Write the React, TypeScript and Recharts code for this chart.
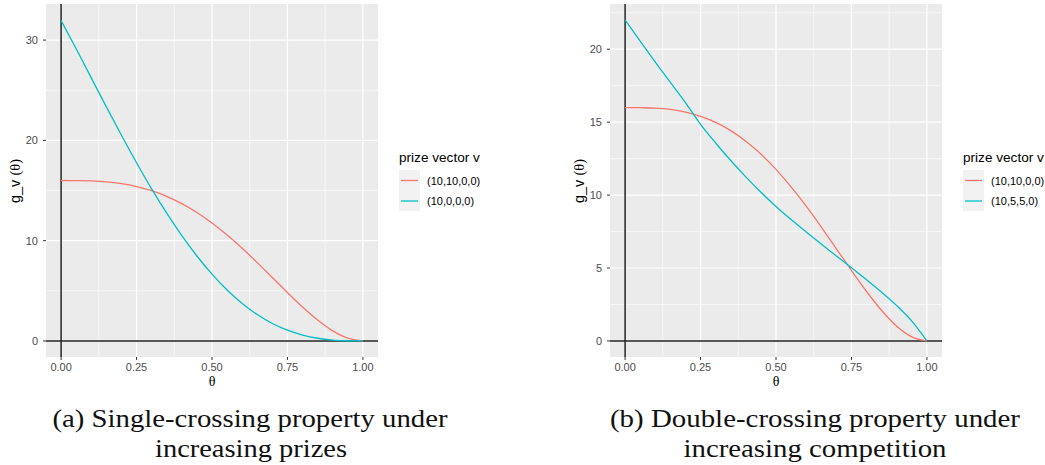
import React from 'react';
import { LineChart, Line, XAxis, YAxis, CartesianGrid, ReferenceLine } from 'recharts';

// theta grid
const thetas = [0, 0.05, 0.1, 0.15, 0.2, 0.25, 0.3, 0.35, 0.4, 0.45, 0.5, 0.55, 0.6, 0.65, 0.7, 0.75, 0.8, 0.85, 0.9, 0.95, 1];

// g_v(theta) for prize vector (10,10,0,0) (same in both panels)
const g_10_10_0_0 = [16.0, 15.99, 15.96, 15.87, 15.69, 15.4, 14.98, 14.42, 13.69, 12.81, 11.76, 10.56, 9.24, 7.81, 6.32, 4.83, 3.39, 2.09, 1.01, 0.28, 0];
// panel (a): prize vector (10,0,0,0)
const g_10_0_0_0 = [31.95, 29.14, 26.23, 23.34, 20.51, 17.77, 15.17, 12.74, 10.5, 8.47, 6.66, 5.08, 3.74, 2.63, 1.74, 1.07, 0.59, 0.27, 0.09, 0.02, 0];
// panel (b): prize vector (10,5,5,0)
const g_10_5_5_0 = [22.0, 20.55, 19.12, 17.72, 16.34, 14.85, 13.57, 12.37, 11.25, 10.2, 9.22, 8.32, 7.47, 6.64, 5.83, 5.02, 4.19, 3.34, 2.42, 1.36, 0];

const xTicks = [0, 0.25, 0.5, 0.75, 1];
const xMinor = [0.125, 0.375, 0.625, 0.875];
const yTicksA = [0, 10, 20, 30];
const yMinorA = [5, 15, 25];
const yTicksB = [0, 5, 10, 15, 20];
const yMinorB = [2.5, 7.5, 12.5, 17.5, 22.5];

const legendTitle = 'prize vector v';
const labelsA = ['(10,10,0,0)', '(10,0,0,0)'];
const labelsB = ['(10,10,0,0)', '(10,5,5,0)'];
const captionA = ['(a) Single-crossing property under', 'increasing prizes'];
const captionB = ['(b) Double-crossing property under', 'increasing competition'];

const RED = '#F8766D';
const TEAL = '#00BFC4';
const SANS = "'Liberation Sans', Arial, Helvetica, sans-serif";
const SERIF = "'Liberation Serif', 'Times New Roman', serif";

type PanelProps = {
  left: number;
  yDomain: [number, number];
  yTicks: number[];
  yMinor: number[];
  seriesB: number[];
};

function Panel({ left, yDomain, yTicks, yMinor, seriesB }: PanelProps) {
  const data = thetas.map((t, i) => ({ theta: t, a: g_10_10_0_0[i], b: seriesB[i] }));
  const tickStyle = { fill: '#4D4D4D', fontSize: 11, fontFamily: SANS };
  return (
    <div style={{ position: 'absolute', left, top: 0 }}>
      <LineChart width={378} height={395} data={data} margin={{ top: 4, right: 0, bottom: 0, left: 0 }}>
        <CartesianGrid
          fill="#EBEBEB"
          stroke="#FFFFFF"
          strokeWidth={1.2}
          horizontalValues={yTicks}
          verticalValues={xTicks}
        />
        {xMinor.map((v) => (
          <ReferenceLine key={'xm' + v} x={v} stroke="#FFFFFF" strokeWidth={0.6} />
        ))}
        {yMinor.map((v) => (
          <ReferenceLine key={'ym' + v} y={v} stroke="#FFFFFF" strokeWidth={0.6} />
        ))}
        <ReferenceLine x={0} stroke="#222222" strokeWidth={1.5} />
        <ReferenceLine y={0} stroke="#222222" strokeWidth={1.5} />
        <XAxis
          dataKey="theta"
          type="number"
          domain={[-0.05, 1.05]}
          ticks={xTicks}
          interval={0}
          allowDataOverflow
          tickFormatter={(v: number) => v.toFixed(2)}
          axisLine={false}
          tickLine={{ stroke: '#333333' }}
          tickSize={3}
          tickMargin={3}
          height={38}
          tick={tickStyle}
        />
        <YAxis
          type="number"
          domain={yDomain}
          ticks={yTicks}
          interval={0}
          allowDataOverflow
          axisLine={false}
          tickLine={{ stroke: '#333333' }}
          tickSize={3}
          tickMargin={5}
          width={46}
          tick={tickStyle}
        />
        <Line type="monotone" dataKey="a" stroke={RED} strokeWidth={1.3} dot={false} activeDot={false} isAnimationActive={false} />
        <Line type="monotone" dataKey="b" stroke={TEAL} strokeWidth={1.3} dot={false} activeDot={false} isAnimationActive={false} />
      </LineChart>
    </div>
  );
}

function Legend({ x, labels }: { x: number; labels: string[] }) {
  return (
    <g>
      <text x={x} y={162} fontSize={13.6} fontFamily={SANS} fill="#000">{legendTitle}</text>
      <rect x={x} y={170} width={21} height={41} fill="#F2F2F2" />
      {labels.map((l, i) => (
        <g key={l}>
          <line x1={x + 2} x2={x + 19} y1={180.5 + i * 20.5} y2={180.5 + i * 20.5} stroke={i === 0 ? RED : TEAL} strokeWidth={1.3} />
          <text x={x + 28} y={184.5 + i * 20.5} fontSize={11} fontFamily={SANS} fill="#000">{l}</text>
        </g>
      ))}
    </g>
  );
}

function AxisTitles({ plotLeft, plotRight }: { plotLeft: number; plotRight: number }) {
  const cx = (plotLeft + plotRight) / 2;
  const yx = plotLeft - 31;
  return (
    <g>
      <text x={cx} y={386} fontSize={14} fontFamily={SERIF} textAnchor="middle" fill="#000">θ</text>
      <text transform={`translate(${yx + 5}, 181) rotate(-90)`} textAnchor="middle" fontSize={14.5} fill="#000">
        <tspan fontFamily={SANS}>g_v </tspan>
        <tspan fontFamily={SERIF}>(θ)</tspan>
      </text>
    </g>
  );
}

export default function App() {
  return (
    <div style={{ position: 'relative', width: 1045, height: 465, background: '#fff', overflow: 'hidden' }}>
      <style>{`body{margin:0;}`}</style>
      <Panel left={0} yDomain={[-1.6, 33.6]} yTicks={yTicksA} yMinor={yMinorA} seriesB={g_10_0_0_0} />
      <Panel left={564} yDomain={[-1.1, 23.1]} yTicks={yTicksB} yMinor={yMinorB} seriesB={g_10_5_5_0} />
      <svg width={1045} height={465} style={{ position: 'absolute', left: 0, top: 0, pointerEvents: 'none' }}>
        <AxisTitles plotLeft={46} plotRight={378} />
        <AxisTitles plotLeft={610} plotRight={942} />
        <Legend x={399} labels={labelsA} />
        <Legend x={963} labels={labelsB} />
        <text x={250} y={427} textAnchor="middle" fontSize={25} fontFamily={SERIF} fill="#111" textLength={395} lengthAdjust="spacingAndGlyphs">{captionA[0]}</text>
        <text x={251} y={457} textAnchor="middle" fontSize={25} fontFamily={SERIF} fill="#111" textLength={192} lengthAdjust="spacingAndGlyphs">{captionA[1]}</text>
        <text x={815} y={427} textAnchor="middle" fontSize={25} fontFamily={SERIF} fill="#111" textLength={410} lengthAdjust="spacingAndGlyphs">{captionB[0]}</text>
        <text x={815} y={457} textAnchor="middle" fontSize={25} fontFamily={SERIF} fill="#111" textLength={263} lengthAdjust="spacingAndGlyphs">{captionB[1]}</text>
      </svg>
    </div>
  );
}
